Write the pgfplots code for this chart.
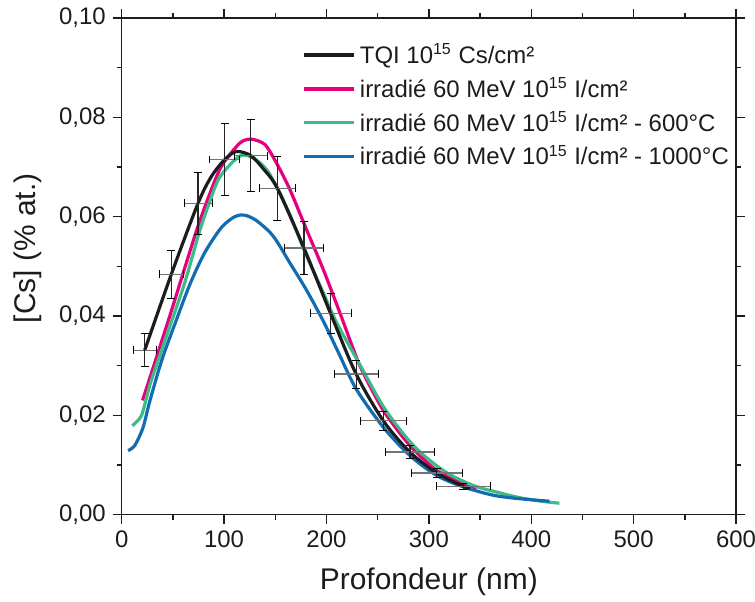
\documentclass[border=0pt]{standalone}
\usepackage{fontspec}
\setmainfont{Liberation Sans}
\usepackage{pgfplots}
\pgfplotsset{compat=1.18}
\definecolor{cblack}{RGB}{28,28,28}
\definecolor{cpink}{RGB}{230,0,126}
\definecolor{cgreen}{RGB}{60,188,132}
\definecolor{cblue}{RGB}{18,108,178}
\pgfplotstableread{
x y ex ey
22.5 0.0331 11 0.0033
48.5 0.0484 12 0.0048
74.6 0.0627 13.7 0.0063
100.7 0.0715 14.7 0.0072
126 0.0723 16 0.0072
152 0.0657 17.5 0.0065
178 0.0537 18.7 0.0054
204 0.0405 20 0.0040
229 0.0283 21.6 0.0028
255.5 0.0189 22.8 0.0019
281.5 0.0126 24 0.00125
307.6 0.0084 25 0.00085
333.6 0.0057 26.4 0.0006
}\tqierr
\begin{document}
\begin{tikzpicture}
\begin{axis}[
  name=ax,
  scale only axis,
  width=308pt, height=249pt,
  xmin=0, xmax=600, ymin=0, ymax=0.10,
  xtick={0,100,200,300,400,500,600},
  ytick={0,0.02,0.04,0.06,0.08,0.10},
  minor x tick num=1, minor y tick num=1,
  tick align=outside,
  major tick length=4.5pt, minor tick length=2.5pt,
  axis line style={line width=0.7pt, cblack},
  every tick/.style={line width=0.7pt, cblack},
  /pgf/number format/assume math mode=true,
  scaled y ticks=false,
  yticklabel style={/pgf/number format/.cd, use comma, fixed, fixed zerofill, precision=2},
  xticklabel style={/pgf/number format/.cd, fixed, precision=0},
  ticklabel style={font=\fontsize{12}{14}\selectfont, text=cblack},
  xlabel={Profondeur (nm)},
  ylabel={[Cs] (\% at.)},
  label style={font=\fontsize{15}{18}\selectfont, text=cblack},
  xlabel style={at={(axis description cs:0.5,-0.1345)}, anchor=center},
  ylabel style={at={(axis description cs:-0.1534,0.536)}, anchor=center},
  legend style={at={(axis description cs:0.294,0.957)}, anchor=north west, draw=none, fill=none,
    font=\fontsize{12}{14}\selectfont, text=cblack, row sep=1.6pt, inner sep=0pt,
    /tikz/every even column/.append style={column sep=4pt}},
  legend cell align=left,
  legend image code/.code={\draw[#1] (0pt,0pt) -- (25pt,0pt);},
]
\addlegendimage{cblack, line width=1.7pt}
\addlegendentry{TQI 10\textsuperscript{15} Cs/cm²}
\addlegendimage{cpink, line width=1.7pt}
\addlegendentry{irradié 60 MeV 10\textsuperscript{15} I/cm²}
\addlegendimage{cgreen, line width=1.7pt}
\addlegendentry{irradié 60 MeV 10\textsuperscript{15} I/cm² - 600°C}
\addlegendimage{cblue, line width=1.7pt}
\addlegendentry{irradié 60 MeV 10\textsuperscript{15} I/cm² - 1000°C}

% irradié 60 MeV
\addplot[forget plot, cpink, line width=1.6pt, smooth, tension=0.4] coordinates {
(20.4,0.0230) (47,0.0400) (74.6,0.0581) (95.8,0.0695) (115.3,0.0748) (126.8,0.0756)
(140,0.0745) (151.2,0.0708) (164.2,0.0655) (180.5,0.0574) (196.8,0.0494) (213,0.0407)
(232.6,0.0300) (255.5,0.0210) (281.5,0.0139) (307.6,0.0089) (337,0.0059) (346.6,0.0054)};

% 600 C
\addplot[forget plot, cgreen, line width=1.6pt, smooth] coordinates {
(10.4,0.0179) (19,0.0198) (24,0.0233) (28.9,0.0270) (45,0.0367) (61.6,0.0467) (76,0.0570)
(86,0.0630) (96,0.0680) (115.3,0.0722) (128.3,0.0718) (141.4,0.0695) (154.4,0.0648)
(167.4,0.0588) (180.5,0.0521) (196.8,0.0447) (209.8,0.0387) (232.6,0.0302) (257,0.0213)
(285,0.0139) (314,0.0089) (343,0.0059) (372.7,0.0042) (389,0.0034) (410,0.0027) (427.5,0.0023)};

% 1000 C
\addplot[forget plot, cblue, line width=1.6pt, smooth] coordinates {
(6.2,0.0129) (12.7,0.0139) (20.8,0.0175) (27.4,0.0228) (39,0.0310) (51.8,0.0383)
(66.5,0.0463) (81,0.0527) (97.4,0.0578) (110.5,0.0600) (120,0.0603) (131.6,0.0592)
(147.9,0.0561) (164.2,0.0507) (180.5,0.0452) (196.8,0.0390) (212,0.0325) (229,0.0253)
(255.5,0.0176) (281.5,0.0119) (307.6,0.0079) (333.6,0.0056) (363,0.0039) (389,0.0032)
(417.8,0.0027)};

% TQI
\addplot[forget plot, cblack, line width=1.6pt, smooth] coordinates {
(22.5,0.0331) (48.5,0.0484) (74.6,0.0627) (87.7,0.0681) (100.7,0.0715) (112,0.0731)
(126,0.0723) (138,0.0697) (152,0.0657) (178,0.0537) (204,0.0405) (229,0.0283)
(255.5,0.0189) (281.5,0.0126) (307.6,0.0084) (333.6,0.0057) (340,0.0053)};

% x error bars
\addplot[forget plot, draw=none, mark=none,
  error bars/.cd, x dir=both, x explicit,
  error bar style={draw=black!55, line width=0.6pt, solid}]
 table[x=x, y=y, x error=ex] {\tqierr};
% y error bars
\addplot[forget plot, draw=none, mark=none,
  error bars/.cd, y dir=both, y explicit,
  error bar style={draw=black!85, line width=0.6pt, solid}]
 table[x=x, y=y, y error=ey] {\tqierr};
\end{axis}
\pgfresetboundingbox
\path[use as bounding box] ([shift={(-61pt,-43.5pt)}]ax.south west) rectangle ([shift={(9.5pt,9pt)}]ax.north east);
\end{tikzpicture}
\end{document}
